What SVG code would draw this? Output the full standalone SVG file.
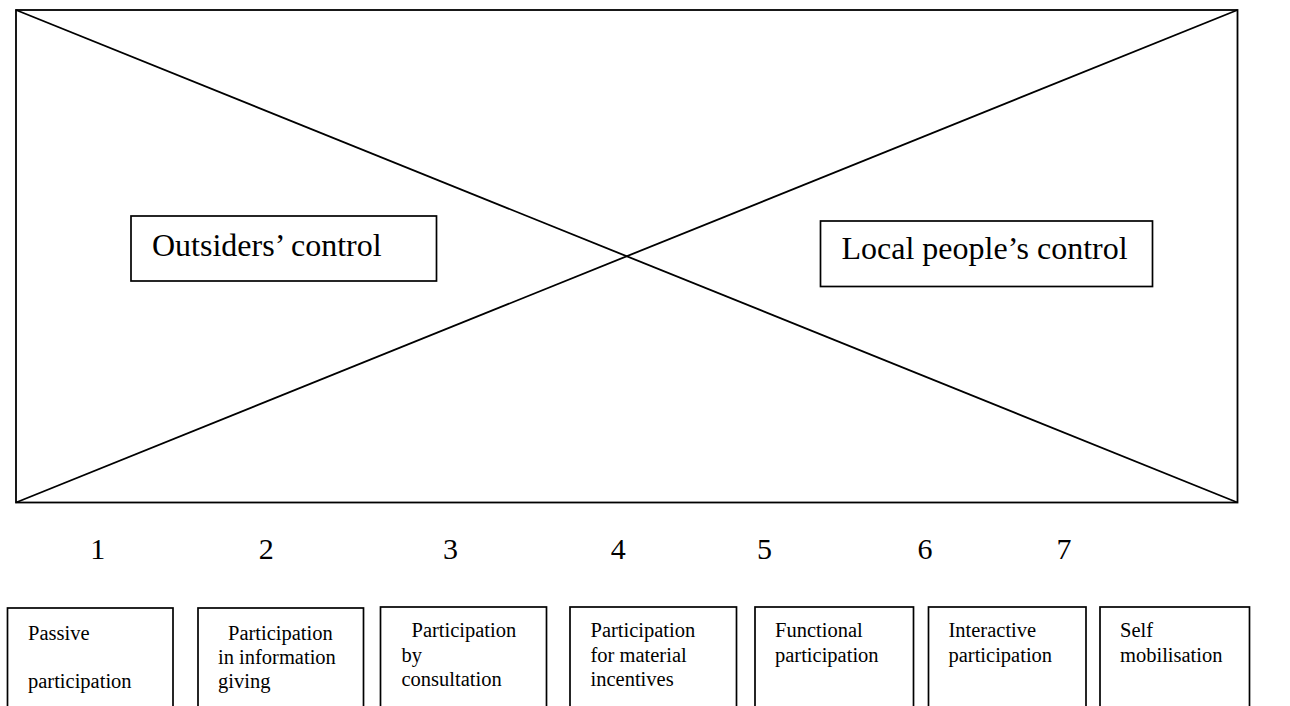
<svg xmlns="http://www.w3.org/2000/svg" width="1290" height="706" viewBox="0 0 1290 706">
<style>
.frame{fill:none;stroke:#000;stroke-width:1.8}
.box{fill:#fff;stroke:#000;stroke-width:1.7}
.line{stroke:#000;stroke-width:1.8;fill:none}
.big{font-family:"Liberation Serif","Times New Roman",serif;font-size:32px;fill:#000}
.num{font-family:"Liberation Serif","Times New Roman",serif;font-size:30px;fill:#000;text-anchor:middle}
.small{font-family:"Liberation Serif","Times New Roman",serif;font-size:20.5px;fill:#000}
</style>
<rect width="1290" height="706" fill="#fff"/>
<g id="frame">
<rect class="frame" x="16" y="10" width="1221.5" height="492.5"/>
</g>
<g id="connectors">
<line class="line" x1="16" y1="10" x2="1237.5" y2="502.5"/>
<line class="line" x1="16" y1="502.5" x2="1237.5" y2="10"/>
</g>
<g id="outsiders">
<rect class="box" x="131" y="216" width="305.5" height="65"/>
<text class="big" x="152" y="256">Outsiders’ control</text>
</g>
<g id="local">
<rect class="box" x="820.5" y="221" width="332" height="65.5"/>
<text class="big" x="841.5" y="259">Local people’s control</text>
</g>
<g id="numbers">
<text class="num" x="97.7" y="559">1</text>
<text class="num" x="266.3" y="559">2</text>
<text class="num" x="450.5" y="559">3</text>
<text class="num" x="618.3" y="559">4</text>
<text class="num" x="764.5" y="559">5</text>
<text class="num" x="925" y="559">6</text>
<text class="num" x="1064" y="559">7</text>
</g>
<g id="box1">
<rect class="box" x="7.5" y="608" width="165.5" height="120"/>
<text class="small" x="28" y="640">Passive</text>
<text class="small" x="28" y="688">participation</text>
</g>
<g id="box2">
<rect class="box" x="198" y="608" width="165.5" height="120"/>
<text class="small" x="228" y="640">Participation</text>
<text class="small" x="218" y="664">in information</text>
<text class="small" x="218" y="688">giving</text>
</g>
<g id="box3">
<rect class="box" x="380.5" y="607" width="166" height="120"/>
<text class="small" x="411.5" y="637">Participation</text>
<text class="small" x="401.5" y="661.5">by</text>
<text class="small" x="401.5" y="685.5">consultation</text>
</g>
<g id="box4">
<rect class="box" x="570" y="607" width="166.5" height="120"/>
<text class="small" x="590.5" y="637">Participation</text>
<text class="small" x="590.5" y="661.5">for material</text>
<text class="small" x="590.5" y="685.5">incentives</text>
</g>
<g id="box5">
<rect class="box" x="755" y="607" width="158.5" height="120"/>
<text class="small" x="775" y="637">Functional</text>
<text class="small" x="775" y="661.5">participation</text>
</g>
<g id="box6">
<rect class="box" x="928.5" y="607" width="157.5" height="120"/>
<text class="small" x="948.5" y="637">Interactive</text>
<text class="small" x="948.5" y="661.5">participation</text>
</g>
<g id="box7">
<rect class="box" x="1100" y="607" width="149.5" height="120"/>
<text class="small" x="1120" y="637">Self</text>
<text class="small" x="1120" y="661.5">mobilisation</text>
</g>
</svg>
